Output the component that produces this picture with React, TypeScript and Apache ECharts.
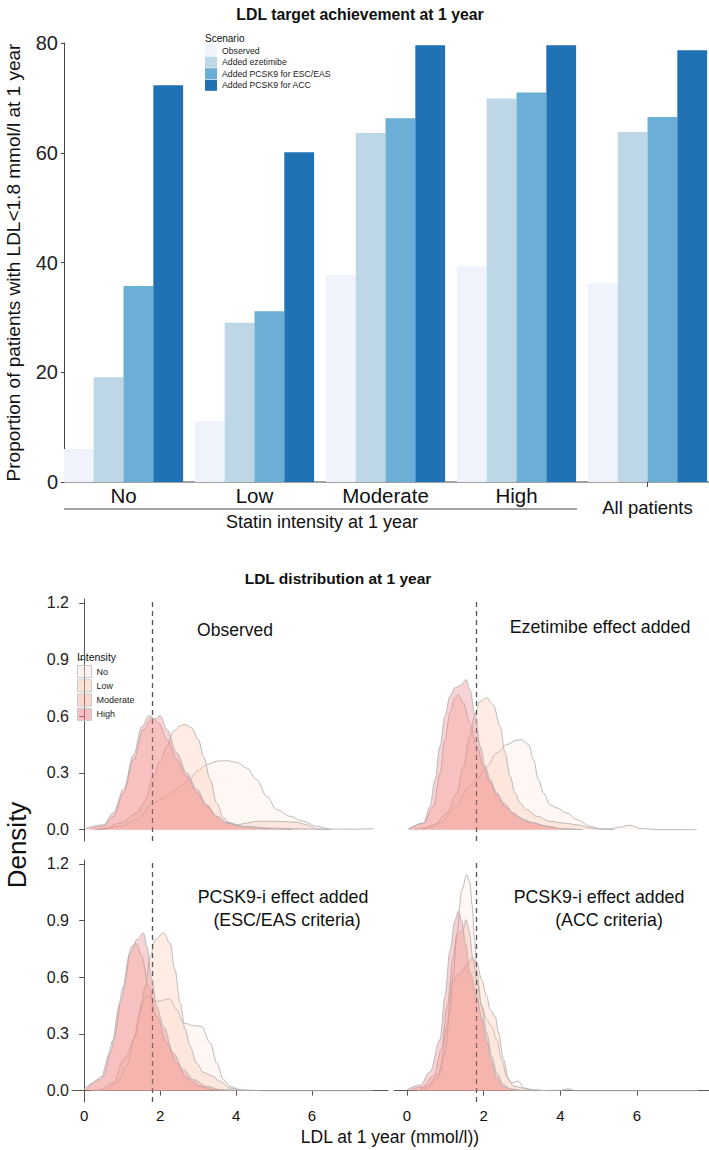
import React, { useEffect, useRef } from "react";
import * as echarts from "echarts";

// ---------- Bar chart data ----------
const categories = ["No", "Low", "Moderate", "High", "All patients"];
const scenarios = ["Observed", "Added ezetimibe", "Added PCSK9 for ESC/EAS", "Added PCSK9 for ACC"];
const observed = [6.0, 11.1, 37.7, 39.3, 36.2];
const ezetimibe = [19.1, 29.0, 63.6, 69.9, 63.8];
const pcsk9Esc = [35.7, 31.1, 66.3, 71.0, 66.5];
const pcsk9Acc = [72.3, 60.1, 79.6, 79.6, 78.7];
const barColors = ["#EEF3FC", "#BDD7E7", "#6BAED6", "#2171B5"];

// ---------- Density data ([LDL, density]) ----------
const intensities = ["No", "Low", "Moderate", "High"];
const densityTicks = [0, 0.3, 0.6, 0.9, 1.2];
const ldlTicks = [0, 2, 4, 6];
const ldlTarget = 1.8;

const observedNo = [[0.3,0],[0.51,0.004],[0.95,0.018],[1.39,0.053],[1.82,0.141],[2.09,0.168],[2.35,0.203],[2.61,0.238],[2.79,0.268],[2.97,0.309],[3.23,0.344],[3.49,0.362],[3.75,0.365],[4.02,0.356],[4.28,0.326],[4.54,0.265],[4.81,0.176],[5.07,0.106],[5.42,0.071],[5.77,0.044],[6.12,0.018],[6.47,0.004],[7.09,0.002],[7.45,0.004],[7.62,0.006]];
const observedLow = [[0.3,0],[0.51,0.004],[0.95,0.035],[1.39,0.088],[1.6,0.15],[1.82,0.279],[2.0,0.362],[2.18,0.441],[2.35,0.52],[2.53,0.55],[2.66,0.556],[2.83,0.538],[3.01,0.476],[3.14,0.388],[3.32,0.265],[3.49,0.141],[3.67,0.062],[3.84,0.035],[4.02,0.026],[4.28,0.035],[4.54,0.044],[5.07,0.044],[5.6,0.039],[5.86,0.026],[6.12,0.004],[6.4,0]];
const observedModerate = [[0.16,0.004],[0.51,0.018],[0.77,0.071],[1.04,0.194],[1.3,0.37],[1.56,0.529],[1.78,0.591],[1.96,0.564],[2.18,0.476],[2.44,0.37],[2.7,0.282],[2.97,0.194],[3.23,0.123],[3.49,0.071],[3.75,0.039],[4.19,0.018],[4.89,0.009],[5.77,0.004],[6.5,0]];
const observedHigh = [[0.03,0.007],[0.51,0.026],[0.77,0.09],[1.04,0.215],[1.3,0.395],[1.52,0.545],[1.71,0.603],[1.87,0.586],[2.0,0.603],[2.18,0.529],[2.44,0.406],[2.7,0.3],[2.97,0.212],[3.23,0.132],[3.49,0.071],[3.75,0.035],[4.19,0.014],[4.89,0.004],[5.5,0]];

const ezetimibeNo = [[0.2,0],[0.43,0.01],[0.86,0.035],[1.3,0.123],[1.56,0.212],[1.82,0.265],[2.08,0.335],[2.34,0.406],[2.6,0.45],[2.86,0.473],[2.99,0.476],[3.17,0.45],[3.3,0.37],[3.43,0.265],[3.56,0.194],[3.73,0.132],[3.91,0.115],[4.17,0.088],[4.43,0.053],[4.78,0.018],[5.04,0.004],[5.3,0.004],[5.56,0.014],[5.82,0.023],[6.08,0.007],[6.52,0],[7.56,0]];
const ezetimibeLow = [[0.4,0],[0.69,0.018],[1.04,0.088],[1.3,0.194],[1.47,0.335],[1.64,0.494],[1.78,0.617],[1.91,0.679],[2.08,0.697],[2.25,0.661],[2.43,0.547],[2.56,0.406],[2.69,0.282],[2.82,0.194],[2.95,0.141],[3.12,0.106],[3.39,0.071],[3.73,0.044],[4.08,0.035],[4.43,0.026],[4.78,0.009],[5.13,0.002],[5.4,0]];
const ezetimibeModerate = [[0.05,0],[0.43,0.035],[0.69,0.123],[0.86,0.3],[0.99,0.476],[1.12,0.617],[1.25,0.697],[1.34,0.714],[1.47,0.67],[1.64,0.564],[1.82,0.441],[1.99,0.335],[2.17,0.247],[2.34,0.185],[2.6,0.115],[2.86,0.071],[3.21,0.039],[3.65,0.018],[4.08,0.004],[4.5,0]];
const ezetimibeHigh = [[0.035,0.004],[0.43,0.035],[0.6,0.123],[0.73,0.265],[0.86,0.441],[0.99,0.6],[1.12,0.706],[1.25,0.75],[1.43,0.767],[1.54,0.794],[1.64,0.741],[1.78,0.6],[1.91,0.441],[2.04,0.335],[2.17,0.265],[2.34,0.194],[2.52,0.141],[2.78,0.088],[3.04,0.053],[3.3,0.035],[3.65,0.018],[4.08,0.004],[4.6,0]];

const escNo = [[0.3,0],[0.51,0.002],[0.86,0.041],[1.12,0.129],[1.34,0.287],[1.52,0.464],[1.63,0.503],[1.91,0.473],[2.25,0.485],[2.44,0.429],[2.61,0.358],[2.88,0.344],[3.09,0.34],[3.32,0.252],[3.49,0.146],[3.67,0.058],[3.84,0.023],[4.11,0.005],[4.63,0],[7.6,0]];
const escLow = [[0.2,0],[0.42,0.005],[0.77,0.041],[1.04,0.164],[1.12,0.182],[1.3,0.27],[1.47,0.411],[1.61,0.552],[1.74,0.711],[1.87,0.799],[2.09,0.834],[2.26,0.781],[2.39,0.64],[2.53,0.464],[2.66,0.323],[2.79,0.235],[2.96,0.146],[3.14,0.097],[3.36,0.079],[3.58,0.049],[3.84,0.014],[4.11,0.002],[4.4,0]];
const escModerate = [[0.07,0.005],[0.51,0.076],[0.77,0.27],[1.04,0.552],[1.25,0.764],[1.37,0.778],[1.52,0.711],[1.69,0.552],[1.91,0.393],[2.18,0.252],[2.44,0.146],[2.7,0.067],[3.05,0.023],[3.4,0.005],[3.8,0]];
const escHigh = [[0,0.009],[0.42,0.058],[0.68,0.199],[0.95,0.464],[1.21,0.728],[1.39,0.799],[1.56,0.834],[1.65,0.764],[1.78,0.587],[1.91,0.446],[2.09,0.34],[2.35,0.199],[2.61,0.111],[2.88,0.058],[3.23,0.023],[3.58,0.005],[4.2,0]];

const accNo = [[0.3,0],[0.51,0.01],[0.77,0.06],[0.99,0.2],[1.12,0.41],[1.21,0.623],[1.3,0.834],[1.43,1.063],[1.56,1.143],[1.64,1.1],[1.7,0.98],[1.76,0.8],[1.82,0.63],[1.95,0.446],[2.08,0.376],[2.21,0.34],[2.34,0.27],[2.47,0.164],[2.6,0.076],[2.73,0.041],[2.9,0.05],[3.08,0.009],[3.3,0],[4.0,0.002],[4.2,0.01],[4.4,0],[7.6,0]];
const accLow = [[0.3,0],[0.51,0.023],[0.86,0.093],[1.04,0.34],[1.17,0.57],[1.34,0.614],[1.56,0.658],[1.69,0.702],[1.82,0.676],[1.95,0.587],[2.08,0.499],[2.17,0.429],[2.3,0.393],[2.39,0.305],[2.52,0.164],[2.65,0.058],[2.78,0.023],[3.04,0.014],[3.3,0.005],[3.6,0]];
const accModerate = [[0.1,0.005],[0.4,0.02],[0.7,0.08],[0.9,0.22],[1.05,0.45],[1.2,0.7],[1.3,0.82],[1.38,0.84],[1.46,0.85],[1.54,0.905],[1.62,0.85],[1.72,0.7],[1.82,0.587],[1.95,0.446],[2.08,0.305],[2.21,0.182],[2.34,0.093],[2.52,0.032],[2.69,0.009],[3.0,0]];
const accHigh = [[0,0.005],[0.35,0.03],[0.6,0.1],[0.86,0.27],[0.99,0.5],[1.12,0.74],[1.25,0.9],[1.34,0.95],[1.43,0.9],[1.52,0.78],[1.65,0.62],[1.82,0.5],[1.95,0.38],[2.08,0.26],[2.21,0.15],[2.34,0.07],[2.52,0.02],[2.8,0.003],[3.2,0]];

const panelCurves = [
  [observedNo, observedLow, observedModerate, observedHigh],
  [ezetimibeNo, ezetimibeLow, ezetimibeModerate, ezetimibeHigh],
  [escNo, escLow, escModerate, escHigh],
  [accNo, accLow, accModerate, accHigh],
];
const panelTitleLines = [
  ["Observed"],
  ["Ezetimibe effect added"],
  ["PCSK9-i effect added", "(ESC/EAS criteria)"],
  ["PCSK9-i effect added", "(ACC criteria)"],
];

// ---------- Styling / layout ----------
const FONT = "'Liberation Sans', Arial, Helvetica, sans-serif";
const fillColors = [
  "rgba(252,228,218,0.45)",
  "rgba(250,190,165,0.42)",
  "rgba(245,160,140,0.42)",
  "rgba(235,130,135,0.5)",
];
const panelLayout = [
  { left: 72, top: 599, width: 316, height: 242, xMin: -0.32, xMax: 8.0, showX: false, showY: true, titles: [[235, 630]] },
  { left: 394, top: 599, width: 315, height: 242, xMin: -0.34, xMax: 7.88, showX: false, showY: false, titles: [[600, 627]] },
  { left: 72, top: 860, width: 316, height: 242, xMin: -0.32, xMax: 8.0, showX: true, showY: true, titles: [[283, 897], [287, 920]] },
  { left: 394, top: 860, width: 315, height: 242, xMin: -0.34, xMax: 7.88, showX: true, showY: false, titles: [[599, 897], [609, 920]] },
];

function txt(text: string, x: number, y: number, size: number, opts: any = {}) {
  return {
    type: "text",
    x,
    y,
    rotation: opts.rotation || 0,
    silent: true,
    style: {
      text,
      fill: opts.fill || "#111",
      fontSize: size,
      fontWeight: opts.bold ? "bold" : "normal",
      fontFamily: FONT,
      align: opts.align || "center",
      verticalAlign: "middle",
    },
  };
}

export default function App() {
  const ref = useRef<HTMLDivElement>(null);

  useEffect(() => {
    if (!ref.current) return;
    const chart = echarts.init(ref.current, null, { renderer: "svg" });

    const grids: any[] = [{ left: 58, top: 43, width: 655, height: 439, containLabel: false, outerBoundsMode: "none" }];
    const xAxes: any[] = [
      {
        type: "category",
        gridIndex: 0,
        data: categories,
        axisLine: { show: false },
        axisTick: {
          show: true,
          alignWithLabel: true,
          length: 5,
          interval: (i: number) => i === 4,
          lineStyle: { color: "#444" },
        },
        axisLabel: {
          interval: 0,
          margin: 3,
          fontSize: 20.5,
          color: "#111",
          fontFamily: FONT,
          formatter: (v: string) => (v === "All patients" ? "{s|" + v + "}" : v),
          rich: { s: { fontSize: 18.5, color: "#111", fontFamily: FONT, padding: [13, 0, 0, 0] } },
        },
      },
    ];
    const yAxes: any[] = [
      {
        type: "value",
        gridIndex: 0,
        min: 0,
        max: 80,
        interval: 20,
        offset: -6,
        name: "Proportion of patients with LDL<1.8 mmol/l at 1 year",
        nameLocation: "middle",
        nameRotate: 90,
        nameGap: 41,
        nameTextStyle: { fontSize: 19, color: "#111", fontFamily: FONT },
        axisLine: { show: true, lineStyle: { color: "#444" } },
        axisTick: { show: true, length: 3, lineStyle: { color: "#444" } },
        axisLabel: { fontSize: 20, color: "#222", margin: 6, fontFamily: FONT },
        splitLine: { show: false },
      },
    ];

    panelLayout.forEach((p, i) => {
      grids.push({ left: p.left, top: p.top, width: p.width, height: p.height, containLabel: false, outerBoundsMode: "none" });
      xAxes.push({
        type: "value",
        gridIndex: i + 1,
        min: p.xMin,
        max: p.xMax,
        show: p.showX,
        splitLine: { show: false },
        axisLine: { show: true, lineStyle: { color: "#555" } },
        axisTick: { show: true, length: 5, customValues: ldlTicks, lineStyle: { color: "#555" } },
        axisLabel: { customValues: ldlTicks, fontSize: 15, color: "#111", margin: 6, fontFamily: FONT },
      });
      yAxes.push({
        type: "value",
        gridIndex: i + 1,
        min: -0.06,
        max: 1.22,
        show: p.showY,
        splitLine: { show: false },
        axisLine: { show: true, lineStyle: { color: "#555" } },
        axisTick: { show: true, length: 5, customValues: densityTicks, lineStyle: { color: "#555" } },
        axisLabel: {
          customValues: densityTicks,
          fontSize: 16,
          color: "#222",
          margin: 3,
          fontFamily: FONT,
          formatter: (v: number) => v.toFixed(1),
        },
      });
    });

    const barData = [observed, ezetimibe, pcsk9Esc, pcsk9Acc];
    const series: any[] = scenarios.map((name, i) => ({
      type: "bar",
      name,
      xAxisIndex: 0,
      yAxisIndex: 0,
      data: barData[i],
      itemStyle: { color: barColors[i] },
      barGap: "0%",
      barCategoryGap: "9%",
    }));

    panelCurves.forEach((curves, pi) => {
      curves.forEach((curve, ci) => {
        const s: any = {
          type: "line",
          name: intensities[ci],
          xAxisIndex: pi + 1,
          yAxisIndex: pi + 1,
          data: curve,
          smooth: 0.35,
          smoothMonotone: "x",
          symbol: "none",
          lineStyle: { color: "#B3B3B3", width: 0.9 },
          itemStyle: { color: fillColors[ci] },
          areaStyle: { color: fillColors[ci] },
          z: 2 + ci,
        };
        if (ci === 3) {
          s.markLine = {
            silent: true,
            symbol: ["none", "none"],
            label: { show: false },
            lineStyle: { color: "#555", type: [5, 4], width: 1.3 },
            data: [{ xAxis: ldlTarget }],
          };
        }
        series.push(s);
      });
    });

    const graphics: any[] = [
      txt("LDL target achievement at 1 year", 360, 14, 15.8, { bold: true }),
      txt("Scenario", 205, 38, 10, { align: "left" }),
      { type: "line", silent: true, shape: { x1: 64, y1: 482, x2: 709, y2: 482 }, style: { stroke: "#444", lineWidth: 1 } },
      { type: "line", silent: true, shape: { x1: 64, y1: 509, x2: 577, y2: 509 }, style: { stroke: "#444", lineWidth: 1 } },
      txt("Statin intensity at 1 year", 322, 522, 18),
      txt("LDL distribution at 1 year", 338, 578, 15.5, { bold: true }),
      txt("Density", 17, 845, 26, { rotation: Math.PI / 2 }),
      txt("Intensity", 77, 657, 10.5, { align: "left" }),
      txt("LDL at 1 year (mmol/l))", 390, 1137, 17.5),
    ];
    panelLayout.forEach((p, i) => {
      panelTitleLines[i].forEach((line, li) => {
        graphics.push(txt(line, p.titles[li][0], p.titles[li][1], i === 0 ? 17.5 : 17.8));
      });
    });

    chart.setOption({
      animation: false,
      backgroundColor: "#fff",
      textStyle: { fontFamily: FONT },
      grid: grids,
      xAxis: xAxes,
      yAxis: yAxes,
      legend: [
        {
          data: scenarios,
          orient: "vertical",
          left: 205,
          top: 45,
          padding: 0,
          itemWidth: 12,
          itemHeight: 11,
          itemGap: 0.6,
          icon: "rect",
          selectedMode: false,
          textStyle: { fontSize: 8.7, color: "#222", fontFamily: FONT },
        },
        {
          data: intensities.map((n, i) => ({
            name: n,
            icon: "rect",
            itemStyle: { color: fillColors[i], borderColor: "#C8C8C8", borderWidth: 1 },
          })),
          orient: "vertical",
          left: 77,
          top: 665,
          padding: 0,
          itemWidth: 14,
          itemHeight: 12,
          itemGap: 1.3,
          icon: "rect",
          selectedMode: false,
          textStyle: { fontSize: 9, color: "#222", fontFamily: FONT },
        },
      ],
      series,
      graphic: graphics,
    });

    return () => chart.dispose();
  }, []);

  return (
    <div
      ref={ref}
      style={{ position: "absolute", left: 0, top: 0, width: 709, height: 1150, background: "#fff" }}
    />
  );
}
